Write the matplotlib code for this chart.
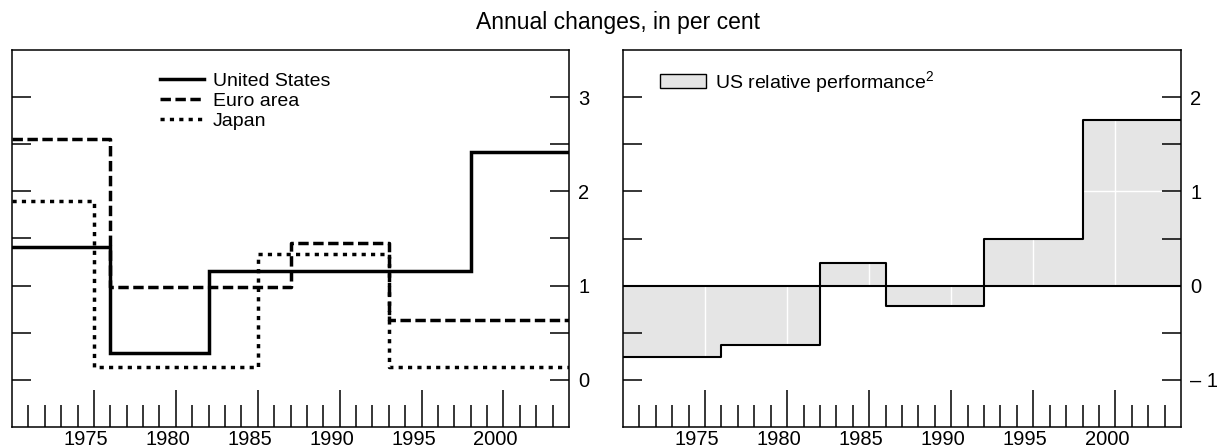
import matplotlib
matplotlib.use("Agg")
import matplotlib.pyplot as plt
import matplotlib.transforms as mtransforms
from matplotlib.patches import Patch

plt.rcParams['font.family'] = ['Liberation Sans', 'DejaVu Sans']
plt.rcParams['mathtext.default'] = 'regular'

# period boundaries and average annual changes (per cent)
us_edges = [1970, 1976, 1982, 1998, 2004]
us_vals = [1.41, 0.28, 1.16, 2.42]
euro_edges = [1970, 1976, 1987, 1993, 2004]
euro_vals = [2.56, 0.99, 1.45, 0.63]
japan_edges = [1970, 1975, 1985, 1993, 2004]
japan_vals = [1.90, 0.14, 1.34, 0.14]

rel_edges = [1970, 1976, 1982, 1986, 1992, 1998, 2004]
rel_vals = [-0.76, -0.63, 0.24, -0.22, 0.50, 1.76]

year_ticks = [1975, 1980, 1985, 1990, 1995, 2000]

fig = plt.figure(figsize=(12.18, 4.48), dpi=100)
ax1 = fig.add_axes([12 / 1218, 21 / 448, 557 / 1218, 377 / 448])
ax2 = fig.add_axes([623 / 1218, 21 / 448, 558 / 1218, 377 / 448])

fs = 14.5


def style_axis(ax, ylim, yticks, ylabels):
    ax.set_xlim(1970, 2004)
    ax.set_ylim(*ylim)
    for s in ax.spines.values():
        s.set_linewidth(1.1)
    ax.set_xticks(year_ticks)
    ax.set_xticklabels([str(y) for y in year_ticks])
    ax.set_xticks(range(1971, 2004), minor=True)
    ax.tick_params(axis='x', which='major', direction='in', length=26.5, width=1.1,
                   labelsize=fs, pad=2, top=False)
    ax.tick_params(axis='x', which='minor', direction='in', length=16, width=1.1, top=False)
    # year labels sit a little left of their ticks
    offset = mtransforms.ScaledTranslation(-8 / 100, 0, fig.dpi_scale_trans)
    for lab in ax.get_xticklabels():
        lab.set_transform(lab.get_transform() + offset)
    ax.yaxis.tick_right()
    ax.set_yticks(yticks)
    ax.set_yticklabels(ylabels)
    ax.set_yticks([v + 0.5 for v in yticks if ylim[0] < v + 0.5 < ylim[1]], minor=True)
    ax.tick_params(axis='y', which='both', direction='in', length=13.7, width=1.1,
                   left=True, right=True, labelleft=False, labelright=True,
                   labelsize=fs, pad=6.5)


# left panel
ax1.step(us_edges, us_vals + [us_vals[-1]], where='post', color='black', lw=2.5,
         solid_joinstyle='miter', label='United States')
ax1.step(euro_edges, euro_vals + [euro_vals[-1]], where='post', color='black', lw=2.5,
         linestyle=(0, (3, 1.3)), label='Euro area')
ax1.step(japan_edges, japan_vals + [japan_vals[-1]], where='post', color='black', lw=2.5,
         linestyle=(0, (1.2, 1.5)), label='Japan')
style_axis(ax1, (-0.5, 3.5), [0, 1, 2, 3], ['0', '1', '2', '3'])
ax1.legend(loc='upper left', bbox_to_anchor=(0.265, 0.94), frameon=False, fontsize=14,
           handlelength=2.3, handletextpad=0.45, labelspacing=0.11, borderpad=0,
           borderaxespad=0)

# right panel
ax2.fill_between(rel_edges, rel_vals + [rel_vals[-1]], 0, step='post',
                 color='#e5e5e5', lw=0, zorder=1)
for y in year_ticks:
    ax2.axvline(y, color='white', lw=1, zorder=1.5)
for y in [-1, 1, 2]:
    ax2.axhline(y, color='white', lw=1, zorder=1.5)
ax2.step(rel_edges, rel_vals + [rel_vals[-1]], where='post', color='black', lw=1.5, zorder=3)
ax2.axhline(0, color='black', lw=1.5, zorder=3)
style_axis(ax2, (-1.5, 2.5), [-1, 0, 1, 2], ['\u2013 1', '0', '1', '2'])
ax2.legend(handles=[Patch(facecolor='#e5e5e5', edgecolor='black', lw=1,
                          label='US relative performance$^2$')],
           loc='upper left', bbox_to_anchor=(0.066, 0.95), frameon=False, fontsize=14,
           handlelength=2.4, handletextpad=0.45, borderpad=0, borderaxespad=0)

fig.text(618 / 1218, 1 - 23 / 448, 'Annual changes, in per cent', ha='center', va='center',
         fontsize=16.5)

fig.savefig('out.png', dpi=100)
